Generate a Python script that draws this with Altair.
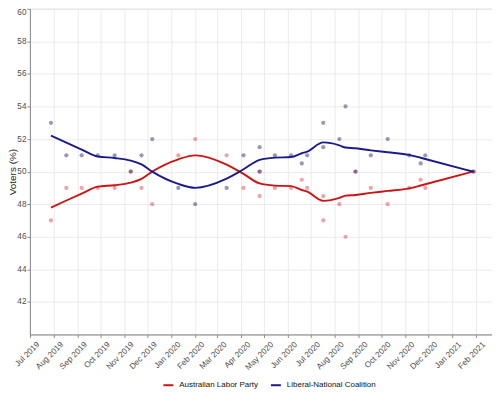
import altair as alt
import pandas as pd

dates = ["2019-07-28", "2019-08-17", "2019-09-06", "2019-09-27", "2019-10-19",
         "2019-11-09", "2019-11-23", "2019-12-07", "2020-01-10", "2020-02-01",
         "2020-03-13", "2020-04-04", "2020-04-25", "2020-04-25", "2020-05-15",
         "2020-06-05", "2020-06-19", "2020-06-26", "2020-07-17", "2020-07-17",
         "2020-08-07", "2020-08-15", "2020-08-28", "2020-09-17", "2020-10-09",
         "2020-11-06", "2020-11-21", "2020-11-27", "2021-01-29"]
lnp = [53, 51, 51, 51, 51, 50, 51, 52, 49, 48, 49, 51, 51.5, 50, 51, 51, 50.5, 51,
       53, 51.5, 52, 54, 50, 51, 52, 51, 50.5, 51, 50]
alp = [47, 49, 49, 49, 49, 50, 49, 48, 51, 52, 51, 49, 48.5, 50, 49, 49, 49.5, 49,
       47, 48.5, 48, 46, 50, 49, 48, 49, 49.5, 49, 50]
parties = ["Australian Labor Party", "Liberal-National Coalition"]
line_colors = ["#cc1414", "#1a1a8c"]
point_colors = ["#d8404f", "#2a2a60"]
y_ticks = [42, 44, 46, 48, 50, 52, 54, 56, 58, 60]

rows = []
for d, a, l in zip(dates, alp, lnp):
    rows.append({"date": d, "party": parties[0], "value": a})
    rows.append({"date": d, "party": parties[1], "value": l})
df = pd.DataFrame(rows)

x_scale = alt.Scale(domain=[alt.DateTime(year=2019, month=6, date=30, hours=12),
                            alt.DateTime(year=2021, month=2, date=22)])
y_scale = alt.Scale(domain=[40, 60], nice=False, zero=False)

x_axis = alt.Axis(title=None, format="%b %Y",
                  tickCount={"interval": "month", "step": 1},
                  labelAngle=-45, labelAlign="right", labelBaseline="top",
                  labelPadding=3, labelOffset=5, labelOverlap=False)
y_axis = alt.Axis(title="Voters (%)", values=y_ticks, titleX=-17, titleY=163.5,
                  titleAngle=-90, titleAlign="center", titleBaseline="middle",
                  labelPadding=1, labelFlush=True)

base = alt.Chart(df)

points = base.mark_circle(size=18, opacity=0.48).encode(
    x=alt.X("date:T", scale=x_scale, axis=x_axis),
    y=alt.Y("value:Q", scale=y_scale, axis=y_axis),
    color=alt.Color("party:N", scale=alt.Scale(domain=parties, range=point_colors),
                    legend=None),
)

lines = base.transform_loess(
    "date", "value", groupby=["party"], bandwidth=0.3
).mark_line(strokeWidth=1.9, interpolate="monotone").encode(
    x=alt.X("date:T", scale=x_scale, axis=x_axis),
    y=alt.Y("value:Q", scale=y_scale, axis=y_axis),
    color=alt.Color("party:N", scale=alt.Scale(domain=parties, range=line_colors),
                    legend=alt.Legend(title=None, orient="none", direction="horizontal",
                                      legendX=133, legendY=372,
                                      symbolType="stroke", symbolSize=100,
                                      symbolStrokeWidth=2, symbolOpacity=1,
                                      labelFontSize=8, labelColor="#111111",
                                      columnPadding=8, padding=0, labelOffset=5)),
)

chart = alt.layer(points, lines).resolve_scale(color="independent").properties(
    width=464, height=327,
    autosize=alt.AutoSizeParams(type="none"),
    padding={"left": 22, "top": 0, "right": 0, "bottom": 55},
).configure(font="Liberation Sans").configure_view(
    stroke="#cfcfcf", strokeWidth=1
).configure_axis(
    gridColor="#ebebeb", gridWidth=1, domainColor="#8a8a8a", tickColor="#8a8a8a",
    tickSize=3, labelFontSize=8.2, labelColor="#4d4d4d", titleFontSize=10,
    titleFontWeight="normal", titleColor="#222222"
)

chart.save("out.html", embed_options={"renderer": "svg", "actions": False})
